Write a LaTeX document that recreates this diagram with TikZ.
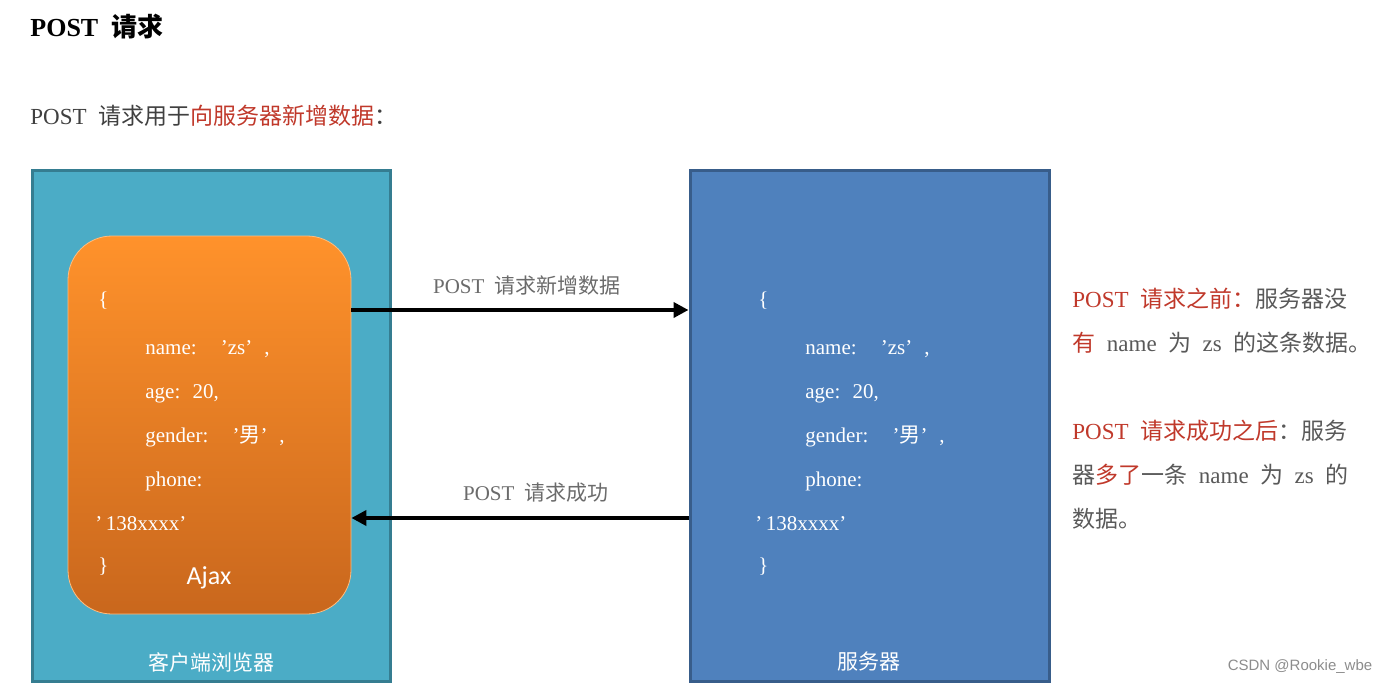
\documentclass[tikz,border=0pt]{standalone}
\usepackage{fontspec}
\setmainfont{Liberation Serif}[WordSpace=2]
\newfontfamily\cjk{Noto Sans CJK SC}
\newfontfamily\calib{Carlito}
\newfontfamily\wmfont{Liberation Sans}
\newcommand{\zh}[1]{{\cjk #1}}
% wide quotes, as in the original full-width font
\newcommand{\oq}{\makebox[0.9em][r]{'}}
\newcommand{\cq}{\makebox[0.9em][l]{'}}
\usetikzlibrary{arrows.meta}

\definecolor{clientteal}{HTML}{4BACC6}
\definecolor{clientedge}{HTML}{357D91}
\definecolor{serverblue}{HTML}{4F81BD}
\definecolor{serveredge}{HTML}{385D8A}
\definecolor{ajaxtop}{HTML}{FF922B}
\definecolor{ajaxbot}{HTML}{C9671D}
\definecolor{notered}{HTML}{C0392B}
\definecolor{notegray}{HTML}{595959}
\definecolor{subgray}{HTML}{404040}
\definecolor{labelgray}{HTML}{6B6B6B}

\begin{document}
\begin{tikzpicture}
		[	x=0.5pt,y=-0.5pt,
		hostbox/.style={rectangle,line width=1.5pt,minimum height=255pt},
		ajaxbox/.style={rectangle,rounded corners=22pt,draw=ajaxtop!60!white,line width=0.4pt,
			top color=ajaxtop,bottom color=ajaxbot,minimum width=141.5pt,minimum height=189pt},
		code/.style={anchor=base west,inner sep=0,text=white,font=\fontsize{10.5}{12}\selectfont},
		boxlabel/.style={inner sep=0,text=white,font=\cjk\fontsize{10.5}{12}\selectfont},
		flow/.style={line width=2pt,-{Triangle[length=7.5pt,width=7.5pt]}},
		flowlabel/.style={anchor=base,inner sep=0,text=labelgray,font=\fontsize{10.5}{12}\selectfont},
		note/.style={anchor=base west,inner sep=0,text=notegray,font=\fontsize{11.5}{14}\selectfont},
		]
		\useasboundingbox (0,0) rectangle (1384,684);

		\node[anchor=base west,inner sep=0,font=\bfseries\fontsize{13}{16}\selectfont,name=title] at (30,37) {POST \zh{请求}};
		\node[anchor=base west,inner sep=0,text=subgray,font=\fontsize{11.5}{14}\selectfont,name=intro] at (30,125)
			{POST \zh{请求用于}{\color{notered}\zh{向服务器新增数据}}\zh{：}};

		\node[hostbox,draw=clientedge,fill=clientteal,minimum width=179pt,name=client] at (211,426){};
		\node[hostbox,draw=serveredge,fill=serverblue,minimum width=179.5pt,name=server] at (869.5,426){};
		\node[ajaxbox,name=ajax] at (209.5,425){};

		\foreach \dx/\sd in {0/c,660/s} {
			\node[code,name=\sd1] at (98+\dx,306) {\{};
			\node[code,name=\sd2] at (145+\dx,354) {name: \oq zs\cq,};
			\node[code,name=\sd3] at (145+\dx,398) {age: 20,};
			\node[code,name=\sd4] at (145+\dx,442) {gender: \oq\zh{男}\cq,};
			\node[code,name=\sd5] at (145+\dx,486) {phone:};
			\node[code,name=\sd6] at (95+\dx,530) {'\,138xxxx'};
			\node[code,name=\sd7] at (98+\dx,572) {\}};
		}
		\node[inner sep=0,text=white,font=\calib\fontsize{13}{15}\selectfont,name=ajaxname] at (209,578) {Ajax};
		\node[boxlabel,name=clientname] at (211,662) {客户端浏览器};
		\node[boxlabel,name=servername] at (869,662) {服务器};

		% request / response
		\coordinate (reqy) at (0,310);
		\coordinate (resy) at (0,518);
		\draw[flow] (ajax.east |- reqy) -- (server.west |- reqy);
		\draw[flow] (server.west |- resy) -- (ajax.east |- resy);
		\node[flowlabel,name=reqlabel] at (527,293) {POST \zh{请求新增数据}};
		\node[flowlabel,name=reslabel] at (536,500) {POST \zh{请求成功}};

		\node[note,name=note1] at (1072,307) {{\color{notered}POST \zh{请求之前：}}\zh{服务器没}};
		\node[note,name=note2] at (1072,351) {{\color{notered}\zh{有}} name \zh{为} zs \zh{的这条数据。}};
		\node[note,name=note3] at (1072,439) {{\color{notered}POST \zh{请求成功之后}}\zh{：服务}};
		\node[note,name=note4] at (1072,483) {\zh{器}{\color{notered}\zh{多了}}\zh{一条} name \zh{为} zs \zh{的}};
		\node[note,name=note5] at (1072,527) {\zh{数据。}};

		\node[inner sep=0,text=black!45,font=\wmfont\fontsize{7.5}{9}\selectfont,name=mark] at (1300,667) {CSDN @Rookie\_wbe};
	\end{tikzpicture}
\end{document}
